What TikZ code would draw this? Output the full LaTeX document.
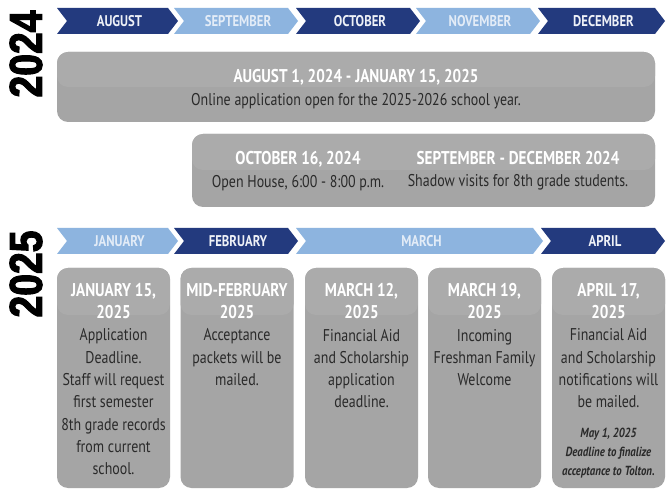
\documentclass[tikz,border=0pt]{standalone}
\usepackage{fontspec}
\setmainfont[FakeStretch=0.82]{PT Sans}
\newfontfamily\yearfont[FakeBold=2.5,FakeStretch=0.85]{Liberation Sans Bold}
\definecolor{navy}{HTML}{233A7E}
\definecolor{lightblue}{HTML}{8DB4DF}
\definecolor{boxgray}{HTML}{A5A5A5}
\definecolor{boxtop}{HTML}{ABABAB}
\definecolor{bodytext}{HTML}{2A2A2A}
\definecolor{navytext}{HTML}{EEF1F7}
\definecolor{lighttext}{HTML}{E3ECF7}
\newcommand\ttl[1]{{\color{white}\fontsize{18.5}{22.3}\selectfont\bfseries #1}}
\newcommand\chevron[7]{%
  \fill[#4] (#1,#3) -- ({#2-10},#3) -- (#2,{#3+13}) -- ({#2-10},{#3+26}) -- (#1,{#3+26}) -- ({#1+10},{#3+13}) -- cycle;
  \node[chevtext,text=#5] (#6) at ({(#1+#2)/2+2},{#3+13}) {#7};}
\begin{document}
\begin{tikzpicture}[x=1pt,y=-1pt,
  chevtext/.style={font=\fontsize{15.5}{16}\selectfont\bfseries, inner sep=0pt},
  graybox/.style={fill=boxgray, rounded corners=11pt, inner sep=0pt},
  band/.style={path picture={\fill[boxtop] (path picture bounding box.north west) rectangle ([yshift=-#1]path picture bounding box.north east);}},
  boxtext/.style={text=bodytext, align=center, inner sep=0pt, font=\fontsize{17}{22.3}\selectfont},
  yeartext/.style={rotate=90, inner sep=0pt, font=\yearfont\fontsize{46}{46}\selectfont}]
\useasboundingbox (0,0) rectangle (670,489);
\fill[white] (0,0) rectangle (670,489);

% year labels
\node[yeartext] (y2024) at (26,54) {2024};
\node[yeartext] (y2025) at (26,274) {2025};

% 2024 chevrons
\chevron{57}{178}{8}{navy}{navytext}{aug}{AUGUST}
\chevron{174}{298}{8}{lightblue}{lighttext}{sep}{SEPTEMBER}
\chevron{296}{420}{8}{navy}{navytext}{oct}{OCTOBER}
\chevron{416}{540}{8}{lightblue}{lighttext}{nov}{NOVEMBER}
\chevron{538}{665}{8}{navy}{navytext}{dec}{DECEMBER}

% 2024 boxes
\node[graybox, band=35pt, minimum width=598pt, minimum height=70pt] (openapp) at (356,87) {};
\node[boxtext] (openapptxt) at (356,89) {\ttl{AUGUST 1, 2024 - JANUARY 15, 2025}\\Online application open for the 2025-2026 school year.};
\node[graybox, band=36pt, minimum width=463pt, minimum height=73pt] (visits) at (423.5,170.5) {};
\node[boxtext] (openhouse) at (298,171) {\ttl{OCTOBER 16, 2024}\\Open House, 6:00 - 8:00 p.m.};
\node[boxtext] (shadow) at (518,171) {\ttl{SEPTEMBER - DECEMBER 2024}\\Shadow visits for 8th grade students.};

% 2025 chevrons
\chevron{57}{178}{228}{lightblue}{lighttext}{jan}{JANUARY}
\chevron{174}{298}{228}{navy}{navytext}{feb}{FEBRUARY}
\chevron{296}{543}{228}{lightblue}{lighttext}{mar}{MARCH}
\chevron{541}{665}{228}{navy}{navytext}{apr}{APRIL}

% 2025 boxes
\foreach \cx/\nm in {113.5/bjan, 237/bfeb, 361.5/bmar, 484.5/bmarb, 608.5/bapr}
  \node[graybox, band=47pt, minimum width=113pt, minimum height=220pt] (\nm) at (\cx,378) {};

\node[boxtext, anchor=north] (tjan) at (113.5,283) {\ttl{JANUARY 15,}\\\ttl{2025}\\Application\\Deadline.\\Staff will request\\first semester\\8th grade records\\from current\\school.};
\node[boxtext, anchor=north] (tfeb) at (237,283) {\ttl{MID-FEBRUARY}\\\ttl{2025}\\Acceptance\\packets will be\\mailed.};
\node[boxtext, anchor=north] (tmar) at (361.5,283) {\ttl{MARCH 12,}\\\ttl{2025}\\Financial Aid\\and Scholarship\\application\\deadline.};
\node[boxtext, anchor=north] (tmarb) at (484.5,283) {\ttl{MARCH 19,}\\\ttl{2025}\\Incoming\\Freshman Family\\Welcome};
\node[boxtext, anchor=north] (tapr) at (608.5,283) {\ttl{APRIL 17,}\\\ttl{2025}\\Financial Aid\\and Scholarship\\notifications will\\be mailed.};
\node[boxtext, anchor=north, font=\fontsize{13.2}{19}\selectfont\bfseries\itshape] (tmay) at (608.5,428) {May 1, 2025\\Deadline to finalize\\acceptance to Tolton.};
\end{tikzpicture}
\end{document}
